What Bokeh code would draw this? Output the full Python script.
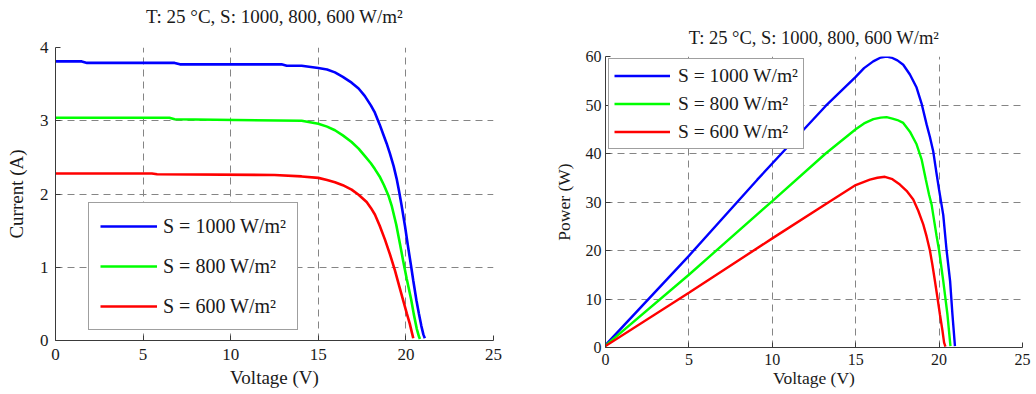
from bokeh.plotting import figure
from bokeh.layouts import row, column
from bokeh.models import Range1d, Legend, LegendItem, FixedTicker, Title
from bokeh.embed import file_html
from bokeh.resources import INLINE

# ---------------- data ----------------
title_text = "T: 25 °C, S: 1000, 800, 600 W/m²"
series_labels = ["S = 1000 W/m²", "S = 800 W/m²", "S = 600 W/m²"]
series_colors = ["#0000FF", "#00FF00", "#FF0000"]

x_ticks = [0, 5, 10, 15, 20, 25]
iv_y_ticks = [0, 1, 2, 3, 4]
pv_y_ticks = [0, 10, 20, 30, 40, 50, 60]

# I-V curves
iv_v_1000 = [0, 1.5, 1.8, 6.8, 7.1, 12.9, 13.2, 14.05, 15.0, 15.5, 15.95, 16.4, 16.9, 17.3,
             17.65, 18.0, 18.23, 18.5, 18.7, 18.9, 19.09, 19.3, 19.47, 19.6, 19.75, 19.95,
             20.13, 20.3, 20.42, 20.6, 20.74, 20.88, 21.0, 21.08]
iv_i_1000 = [3.81, 3.81, 3.79, 3.79, 3.77, 3.77, 3.75, 3.75, 3.72, 3.70, 3.66, 3.60, 3.52, 3.44,
             3.34, 3.21, 3.11, 2.95, 2.82, 2.69, 2.55, 2.38, 2.21, 2.05, 1.85, 1.56,
             1.27, 1.01, 0.82, 0.55, 0.37, 0.20, 0.08, 0.03]

iv_v_800 = [0, 6.5, 6.8, 14.05, 15.0, 15.5, 15.95, 16.4, 16.9, 17.3, 17.65, 18.0, 18.23, 18.5,
            18.75, 19.0, 19.2, 19.45, 19.66, 19.85, 20.04, 20.3, 20.45, 20.62, 20.75, 20.8]
iv_i_800 = [3.04, 3.04, 3.02, 3.0, 2.96, 2.92, 2.87, 2.80, 2.71, 2.62, 2.52, 2.42, 2.34, 2.24,
            2.12, 1.98, 1.83, 1.58, 1.32, 1.08, 0.85, 0.56, 0.36, 0.16, 0.05, 0.02]

iv_v_600 = [0, 5.5, 5.8, 12.5, 14.05, 15.0, 15.5, 15.95, 16.4, 16.9, 17.3, 17.76, 18.0, 18.23,
            18.5, 18.8, 19.1, 19.37, 19.6, 19.84, 20.05, 20.22, 20.35, 20.42]
iv_i_600 = [2.28, 2.28, 2.27, 2.26, 2.24, 2.22, 2.19, 2.16, 2.12, 2.06, 1.99, 1.89, 1.81, 1.72,
            1.57, 1.38, 1.17, 0.96, 0.76, 0.55, 0.37, 0.23, 0.10, 0.03]

# P-V curves
pv_v_1000 = [0, 5, 9.1, 11.5, 13.2, 15.0, 15.5, 16.05, 16.5, 16.85, 17.2, 17.5, 17.85, 18.25,
             18.65, 18.95, 19.25, 19.45, 19.65, 19.85, 20.0, 20.25, 20.45, 20.66, 20.8, 20.95]
pv_p_1000 = [0.5, 18.9, 34.6, 43.5, 49.8, 55.8, 57.6, 59.0, 59.8, 60.0, 59.7, 59.2, 58.3, 56.3,
             53.6, 50.3, 46.0, 43.4, 40.4, 35.8, 32.5, 27.3, 20.0, 13.7, 6.8, 0.3]

pv_v_800 = [0, 5, 10, 13.2, 15.0, 15.5, 16.06, 16.5, 16.85, 17.2, 17.5, 17.85, 18.25, 18.65,
            18.95, 19.2, 19.4, 19.55, 19.65, 19.85, 20.0, 20.25, 20.5, 20.68]
pv_p_800 = [0.4, 15.0, 30.2, 40.0, 45.0, 46.2, 47.1, 47.4, 47.5, 47.2, 46.9, 46.3, 44.5, 41.9,
            38.8, 34.7, 31.5, 29.5, 27.3, 23.0, 20.0, 13.7, 6.8, 0.3]

pv_v_600 = [0, 5, 10, 13.4, 15.0, 15.85, 16.3, 16.75, 17.2, 17.65, 18.05, 18.45, 18.75, 19.05,
            19.25, 19.45, 19.6, 19.75, 19.9, 20.05, 20.2, 20.3, 20.38]
pv_p_600 = [0.3, 11.3, 22.5, 30.0, 33.5, 34.6, 35.0, 35.2, 34.7, 33.6, 32.3, 30.5, 28.2, 25.4,
            22.9, 20.0, 17.0, 13.7, 10.3, 6.8, 3.5, 1.0, 0.2]

FONT = "Liberation Serif"
GRID = "#858585"
AX = "#3a3a3a"
TXT = "#1a1a1a"


def style(p, y_ticks, tick_fs, label_fs, xl_standoff, yl_standoff, xt_standoff, yt_standoff):
    p.outline_line_color = None
    p.background_fill_color = "white"
    for ax in (p.xaxis[0], p.yaxis[0]):
        ax.axis_line_color = AX
        ax.axis_line_width = 1
        ax.major_tick_line_color = AX
        ax.major_tick_in = 5
        ax.major_tick_out = 0
        ax.minor_tick_line_color = None
        ax.major_label_text_font = FONT
        ax.major_label_text_font_size = tick_fs
        ax.major_label_text_color = TXT
        ax.axis_label_text_font = FONT
        ax.axis_label_text_font_size = label_fs
        ax.axis_label_text_font_style = "normal"
        ax.axis_label_text_color = TXT
    p.xaxis[0].ticker = FixedTicker(ticks=x_ticks)
    p.yaxis[0].ticker = FixedTicker(ticks=y_ticks)
    p.xaxis[0].axis_label_standoff = xl_standoff
    p.yaxis[0].axis_label_standoff = yl_standoff
    p.xaxis[0].major_label_standoff = xt_standoff
    p.yaxis[0].major_label_standoff = yt_standoff
    for g in (p.xgrid[0], p.ygrid[0]):
        g.grid_line_color = GRID
        g.grid_line_dash = "7 5"
        g.grid_line_width = 1


def make_title(text, size, standoff, valign="bottom"):
    return Title(text=text, text_font=FONT, text_font_style="normal", text_font_size=size,
                 text_color=TXT, align="center", standoff=standoff, vertical_align=valign)


# ---------------- left: I-V ----------------
p1 = figure(width=520, height=394, output_backend="svg", toolbar_location=None,
            x_range=Range1d(0, 25), y_range=Range1d(0, 4),
            x_axis_label="Voltage (V)", y_axis_label="Current (A)",
            title=None,
            min_border_left=55, min_border_right=27, min_border_top=47, min_border_bottom=54)
style(p1, iv_y_ticks, "17px", "19px", 4, 10, 8, 7)
# spacer between title and frame, then the title itself
p1.add_layout(make_title(" ", "4px", 13), "above")
p1.add_layout(make_title(title_text, "19px", 2), "above")

r1 = [
    p1.line(iv_v_1000, iv_i_1000, line_color=series_colors[0], line_width=2.6),
    p1.line(iv_v_800, iv_i_800, line_color=series_colors[1], line_width=2.6),
    p1.line(iv_v_600, iv_i_600, line_color=series_colors[2], line_width=2.6),
]
leg1 = Legend(items=[LegendItem(label=series_labels[i], renderers=[r1[i]]) for i in range(3)],
              location=(33, 10), orientation="vertical",
              label_text_font=FONT, label_text_font_size="20px", label_text_color=TXT,
              glyph_width=57, glyph_height=24, label_height=24, label_standoff=6,
              spacing=16, padding=11, margin=0,
              border_line_color="#404040", border_line_width=1.5,
              background_fill_color="white", background_fill_alpha=1.0)
p1.add_layout(leg1, "center")

# ---------------- right: P-V ----------------
p2 = figure(width=516, height=394, output_backend="svg", toolbar_location=None,
            x_range=Range1d(0, 25), y_range=Range1d(0, 60),
            x_axis_label="Voltage (V)", y_axis_label="Power (W)",
            title=None,
            min_border_left=85, min_border_right=14, min_border_top=56, min_border_bottom=47)
style(p2, pv_y_ticks, "16px", "17.5px", 0, 9, 6, 4)
p2.add_layout(make_title(title_text, "18.5px", 17), "above")

r2 = [
    p2.line(pv_v_1000, pv_p_1000, line_color=series_colors[0], line_width=2.4),
    p2.line(pv_v_800, pv_p_800, line_color=series_colors[1], line_width=2.4),
    p2.line(pv_v_600, pv_p_600, line_color=series_colors[2], line_width=2.4),
]
leg2 = Legend(items=[LegendItem(label=series_labels[i], renderers=[r2[i]]) for i in range(3)],
              location=(3, 198), orientation="vertical",
              label_text_font=FONT, label_text_font_size="19.5px", label_text_color=TXT,
              glyph_width=56, glyph_height=23, label_height=23, label_standoff=8,
              spacing=5, padding=5, margin=0,
              border_line_color="#404040", border_line_width=1.5,
              background_fill_color="white", background_fill_alpha=1.0)
p2.add_layout(leg2, "center")

layout = row(column(p1), column(p2))
open("out.html", "w").write(file_html(layout, INLINE))
